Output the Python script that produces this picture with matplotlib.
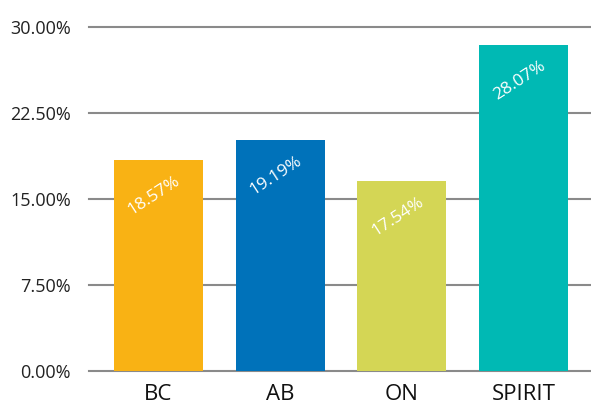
import matplotlib.pyplot as plt
import numpy as np

categories = ["BC", "AB", "ON", "SPIRIT"]
heights = [18.4, 20.15, 16.57, 28.43]   # bar tops as drawn
value_labels = ["18.57%", "19.19%", "17.54%", "28.07%"]
colors = ["#F9B214", "#0072BA", "#D4D655", "#00B9B4"]
yticks = [0, 7.5, 15, 22.5, 30]

plt.rcParams['font.family'] = ['Open Sans', 'DejaVu Sans']

fig = plt.figure(figsize=(5.91, 4.07), dpi=100)
ax = fig.add_axes([89 / 591, 36 / 407, 502 / 591, 344 / 407])

x = np.arange(len(categories))
bars = ax.bar(x, heights, width=0.73, color=colors, zorder=2)

for rect, lab in zip(bars, value_labels):
    ax.annotate(lab, xy=(rect.get_x() + rect.get_width() / 2, rect.get_height()),
                xytext=(-3, -26), textcoords="offset points",
                ha='center', va='center', rotation=33, color='white', fontsize=12.5)

ax.set_ylim(0, 30)
ax.set_xlim(-0.571, 3.555)
ax.set_yticks(yticks)
ax.set_yticklabels([f"{v:.2f}%" for v in yticks])
ax.set_xticks(x)
ax.set_xticklabels(categories)
ax.tick_params(axis='y', length=0, pad=13, labelsize=13, labelcolor='#222222')
ax.tick_params(axis='x', length=0, pad=9, labelsize=16, labelcolor='#111111')
ax.grid(axis='y', color='#8a8a8a', linewidth=1.5, zorder=1)
ax.set_axisbelow(True)
for s in ax.spines.values():
    s.set_visible(False)
for gl in ax.get_ygridlines():
    gl.set_clip_on(False)

fig.savefig("out.png", dpi=100)
